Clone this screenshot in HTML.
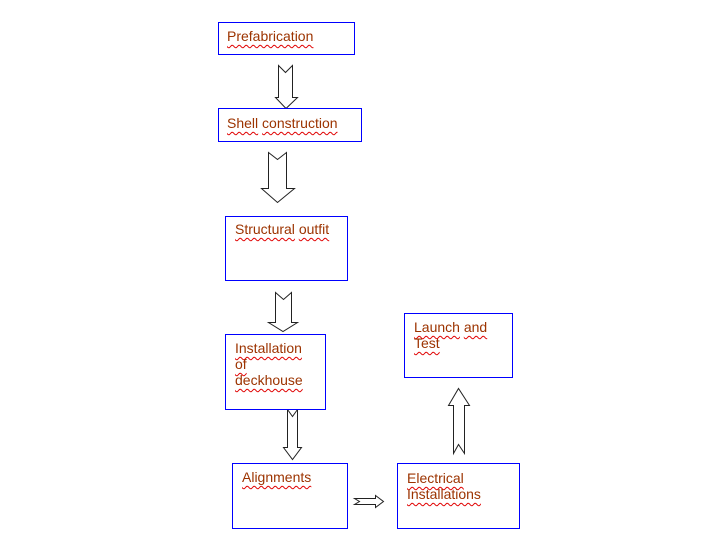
<!DOCTYPE html>
<html>
<head>
<meta charset="utf-8">
<style>
  html,body{margin:0;padding:0;background:#fff;}
  body{width:707px;height:548px;position:relative;overflow:hidden;}
  svg{position:absolute;left:0;top:0;}
  .t{position:absolute;font-family:"Liberation Sans",Arial,sans-serif;font-size:14px;line-height:16px;color:#9c3300;white-space:nowrap;}
  .t span{text-decoration:underline wavy #e00000;text-decoration-thickness:1px;text-underline-offset:3px;text-decoration-skip-ink:none;}
</style>
</head>
<body>
<svg width="707" height="548" viewBox="0 0 707 548">
  <g fill="#fff" stroke="#222" stroke-width="1">
    <path d="M278.5,65.5 L285.5,72.5 L292.5,65.5 L292.5,97.5 L297.5,97.5 L286,108.5 L275.5,97.5 L278.5,97.5 Z"/>
    <path d="M268.5,152.5 L277.5,159.5 L286.5,152.5 L286.5,188.5 L294.5,188.5 L277.5,202.5 L261.5,188.5 L268.5,188.5 Z"/>
    <path d="M275.5,292.5 L283.5,299.5 L291.5,292.5 L291.5,322.5 L297.5,322.5 L283,331.5 L268.5,322.5 L275.5,322.5 Z"/>
    <path d="M287.5,409.5 L292.5,416.5 L297.5,409.5 L297.5,447.5 L301.5,447.5 L292.5,459.5 L283.5,447.5 L287.5,447.5 Z"/>
    <path d="M354.5,498.5 L375.5,498.5 L375.5,495.5 L383.5,501.5 L375.5,507.5 L375.5,504.5 L354.5,504.5 L359.5,501.5 Z"/>
    <path d="M453.5,453.5 L458.5,444.5 L464.5,453.5 L464.5,405.5 L469.5,405.5 L458.5,388.5 L448.5,405.5 L453.5,405.5 Z"/>
  </g>
  <g fill="#fff" stroke="#0000ff" stroke-width="1">
    <rect x="218.5" y="22.5" width="136" height="32"/>
    <rect x="218.5" y="108.5" width="143" height="33"/>
    <rect x="225.5" y="216.5" width="122" height="64"/>
    <rect x="225.5" y="334.5" width="100" height="75"/>
    <rect x="232.5" y="463.5" width="115" height="65"/>
    <rect x="397.5" y="463.5" width="122" height="65"/>
    <rect x="404.5" y="313.5" width="108" height="64"/>
  </g>
</svg>

<div class="t" style="left:227px;top:28px;"><span>Prefabrication</span></div>
<div class="t" style="left:227px;top:115px;"><span>Shell</span> <span>construction</span></div>
<div class="t" style="left:235px;top:221px;"><span>Structural</span> <span>outfit</span></div>
<div class="t" style="left:235px;top:340px;"><span>Installation</span><br><span>of</span><br><span>deckhouse</span></div>
<div class="t" style="left:242px;top:469px;"><span>Alignments</span></div>
<div class="t" style="left:407px;top:470px;"><span>Electrical</span><br><span>Installations</span></div>
<div class="t" style="left:414px;top:319px;"><span>Launch</span> <span>and</span><br><span>Test</span></div>
</body>
</html>
